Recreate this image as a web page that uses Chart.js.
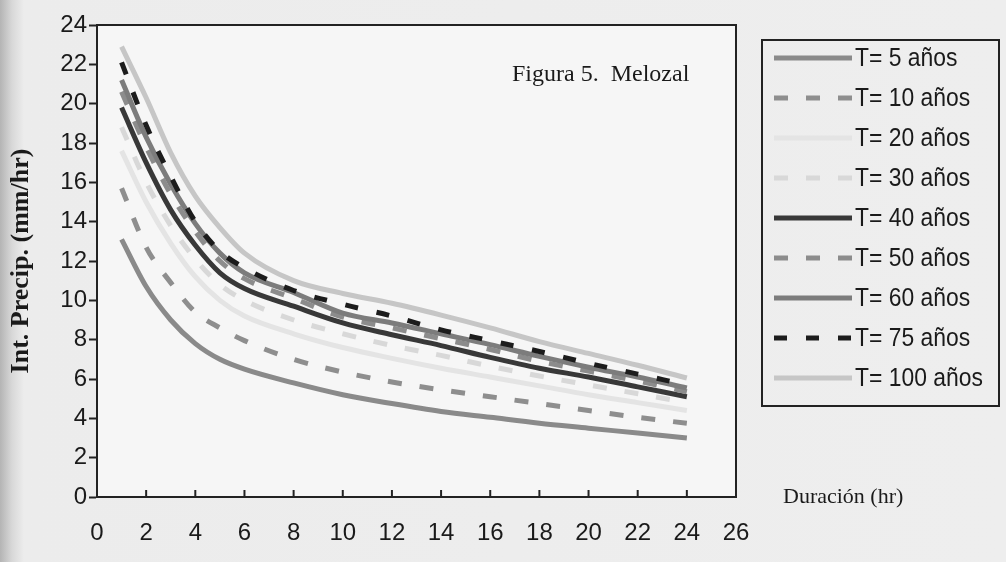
<!DOCTYPE html>
<html>
<head>
<meta charset="utf-8">
<script src="https://cdn.jsdelivr.net/npm/chart.js@4.4.1/dist/chart.umd.min.js"></script>
<style>
    html, body {
        margin: 0;
        padding: 0;
        width: 1006px;
        height: 562px;
        overflow: hidden;
        background: linear-gradient(to right, #b4b4b4 0px, #d8d8d8 12px, #ececec 24px, #eeeeee 100%);
    }
    #wrap {
        position: relative;
        width: 1006px;
        height: 562px;
    }
</style>
</head>
<body>
<div id="wrap"><canvas id="idfChart" width="1006" height="562"></canvas></div>
<script>
// Durations (hr) and intensities (mm/hr)
const durations = [1, 2, 3, 4, 5, 6, 8, 10, 12, 14, 16, 18, 20, 22, 24];

const t5   = [13.1, 10.7, 9.0, 7.8, 7.0, 6.5, 5.8, 5.2, 4.75, 4.35, 4.05, 3.75, 3.5, 3.25, 3.0];
const t10  = [15.7, 12.7, 10.9, 9.4, 8.6, 7.95, 7.0, 6.35, 5.85, 5.45, 5.1, 4.75, 4.4, 4.05, 3.75];
const t20  = [17.6, 15.0, 12.9, 11.2, 10.0, 9.2, 8.3, 7.6, 7.05, 6.55, 6.1, 5.65, 5.2, 4.8, 4.4];
const t30  = [18.8, 16.0, 13.8, 12.1, 10.8, 10.0, 9.0, 8.3, 7.7, 7.2, 6.65, 6.15, 5.7, 5.25, 4.8];
const t40  = [19.8, 17.0, 14.6, 12.8, 11.4, 10.6, 9.7, 8.85, 8.25, 7.7, 7.1, 6.55, 6.1, 5.6, 5.1];
const t50  = [20.6, 17.8, 15.4, 13.5, 12.0, 11.1, 10.1, 9.15, 8.6, 8.05, 7.5, 6.9, 6.4, 5.9, 5.35];
const t60  = [21.2, 18.3, 15.9, 13.9, 12.4, 11.4, 10.4, 9.35, 8.85, 8.3, 7.75, 7.15, 6.6, 6.1, 5.55];
const t75  = [22.1, 18.9, 16.3, 14.0, 12.5, 11.65, 10.5, 9.8, 9.2, 8.5, 7.95, 7.4, 6.8, 6.25, 5.7];
const t100 = [22.9, 20.3, 17.5, 15.3, 13.7, 12.4, 11.0, 10.35, 9.85, 9.25, 8.6, 7.9, 7.3, 6.7, 6.05];

const seriesLabels = ['T= 5 años', 'T= 10 años', 'T= 20 años', 'T= 30 años', 'T= 40 años',
                      'T= 50 años', 'T= 60 años', 'T= 75 años', 'T= 100 años'];
const seriesValues = [t5, t10, t20, t30, t40, t50, t60, t75, t100];

const xTicks = [0, 2, 4, 6, 8, 10, 12, 14, 16, 18, 20, 22, 24, 26];
const yTicks = [0, 2, 4, 6, 8, 10, 12, 14, 16, 18, 20, 22, 24];

// Line styles (grey scale, as in the scanned figure)
const lineColors = ['#8a8a8a', '#8e8e8e', '#e4e4e4', '#d8d8d8', '#383838',
                    '#8c8c8c', '#7c7c7c', '#1c1c1c', '#c6c6c6'];
const lineDashes = [[], [14, 18], [], [14, 18], [], [14, 18], [], [13, 19], []];

const sansFont = '"Liberation Sans", Arial, sans-serif';
const serifFont = '"Liberation Serif", "Times New Roman", serif';

const datasets = seriesValues.map((values, i) => ({
    label: seriesLabels[i],
    data: values.map((v, j) => ({ x: durations[j], y: v })),
    borderColor: lineColors[i],
    backgroundColor: lineColors[i],
    borderDash: lineDashes[i],
    borderWidth: 5,
    pointRadius: 0,
    fill: false,
    cubicInterpolationMode: 'monotone',
    order: 9 - i
}));

// Plot frame, inner x ticks, captions and the boxed legend
const decorations = {
    id: 'decorations',
    beforeDraw(chart) {
        const { ctx, chartArea } = chart;
        ctx.save();
        ctx.fillStyle = '#f6f6f6';
        ctx.fillRect(chartArea.left, chartArea.top,
                     chartArea.right - chartArea.left, chartArea.bottom - chartArea.top);
        ctx.restore();
    },
    afterDraw(chart) {
        const { ctx, chartArea } = chart;
        const xScale = chart.scales.x;
        ctx.save();

        // top and right border of the plot
        ctx.strokeStyle = '#222';
        ctx.lineWidth = 2;
        ctx.beginPath();
        ctx.moveTo(chartArea.left, chartArea.top);
        ctx.lineTo(chartArea.right, chartArea.top);
        ctx.lineTo(chartArea.right, chartArea.bottom);
        ctx.stroke();

        // x tick marks pointing up into the plot
        xTicks.forEach(v => {
            const px = xScale.getPixelForValue(v);
            ctx.beginPath();
            ctx.moveTo(px, chartArea.bottom);
            ctx.lineTo(px, chartArea.bottom - 7);
            ctx.stroke();
        });

        // captions
        ctx.fillStyle = '#1a1a1a';
        ctx.textBaseline = 'middle';
        ctx.textAlign = 'left';
        ctx.font = '24px ' + serifFont;
        ctx.fillText('Figura 5.  Melozal', 512, 75);
        ctx.font = '22px ' + serifFont;
        ctx.fillText('Duración (hr)', 783, 497);

        // legend box
        ctx.strokeStyle = '#222';
        ctx.lineWidth = 2;
        ctx.strokeRect(762, 40, 237, 366);
        chart.data.datasets.forEach((ds, i) => {
            const y = 58 + i * 40;
            ctx.strokeStyle = ds.borderColor;
            ctx.lineWidth = 5;
            ctx.setLineDash(ds.borderDash);
            ctx.beginPath();
            ctx.moveTo(774, y);
            ctx.lineTo(852, y);
            ctx.stroke();
            ctx.setLineDash([]);
            // the scan uses a condensed sans face: squeeze the text a little
            ctx.save();
            ctx.translate(855, y + 1);
            ctx.scale(0.88, 1);
            ctx.fillStyle = '#1a1a1a';
            ctx.font = '26px ' + sansFont;
            ctx.fillText(ds.label, 0, 0);
            ctx.restore();
        });
        ctx.restore();
    }
};

const tickFont = { family: sansFont, size: 24 };

new Chart(document.getElementById('idfChart').getContext('2d'), {
    type: 'line',
    data: { datasets },
    options: {
        responsive: false,
        animation: false,
        layout: { padding: { left: 6, top: 25, right: 270, bottom: 0 } },
        plugins: {
            legend: { display: false },
            tooltip: { enabled: false }
        },
        scales: {
            x: {
                type: 'linear',
                min: 0,
                max: 26,
                afterBuildTicks: scale => { scale.ticks = xTicks.map(v => ({ value: v })); },
                afterFit: scale => { scale.height = 65; },
                ticks: {
                    color: '#1a1a1a',
                    font: tickFont,
                    padding: 22,
                    maxRotation: 0,
                    autoSkip: false
                },
                grid: { drawOnChartArea: false, drawTicks: false },
                border: { color: '#222', width: 2 }
            },
            y: {
                min: 0,
                max: 24,
                afterBuildTicks: scale => { scale.ticks = yTicks.map(v => ({ value: v })); },
                afterFit: scale => { scale.width = 91; },
                ticks: {
                    color: '#1a1a1a',
                    font: tickFont,
                    padding: 2,
                    autoSkip: false
                },
                grid: {
                    drawOnChartArea: false,
                    drawTicks: true,
                    tickLength: 8,
                    tickColor: '#222',
                    tickWidth: 2
                },
                border: { color: '#222', width: 2 },
                title: {
                    display: true,
                    text: 'Int. Precip. (mm/hr)',
                    color: '#1a1a1a',
                    font: { family: serifFont, size: 26, weight: 'bold' },
                    padding: { top: 0, bottom: 0 }
                }
            }
        }
    },
    plugins: [decorations]
});
</script>
</body>
</html>
